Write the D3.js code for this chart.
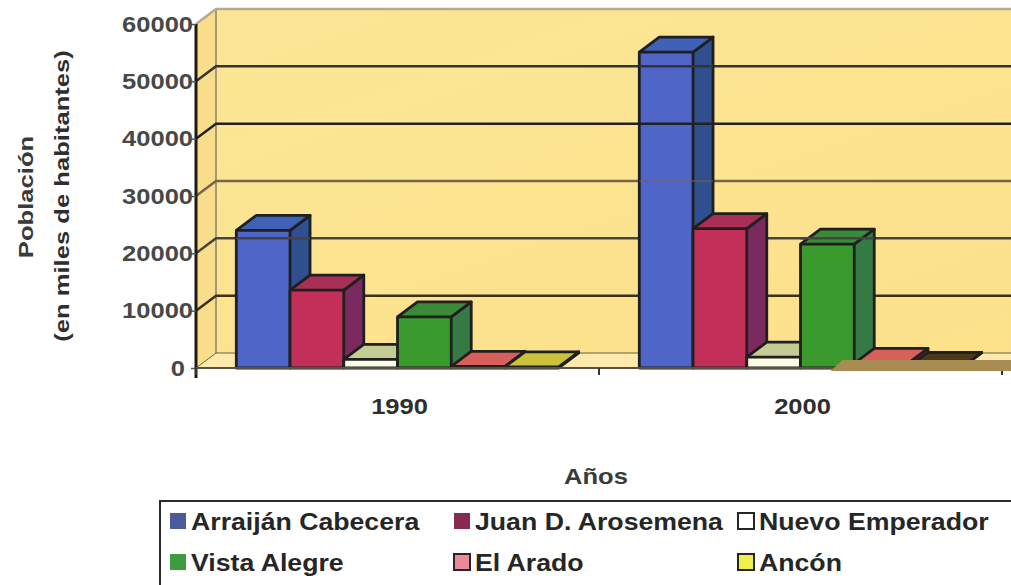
<!DOCTYPE html>
<html>
<head>
<meta charset="utf-8">
<script src="https://cdn.jsdelivr.net/npm/d3@7"></script>
<style>
body { margin: 0; background: #fff; overflow: hidden; }
svg { display: block; }
text { font-family: "Liberation Sans", Arial, sans-serif; font-weight: bold; }
</style>
</head>
<body>
<div id="chart"></div>
<script>
const years = ["1990", "2000"];
const seriesNames = ["Arraiján Cabecera", "Juan D. Arosemena", "Nuevo Emperador", "Vista Alegre", "El Arado", "Ancón"];
const values1990 = [24000, 13600, 1500, 8900, 300, 200];
const values2000 = [55100, 24300, 1900, 21600, 800, 100];
const yTicks = [0, 10000, 20000, 30000, 40000, 50000, 60000];

const frontColors = ["#4f66c8", "#c2305a", "#fdfde6", "#3a9a2e", "#d8605a", "#ccc23a"];
const topColors = ["#3f62b8", "#a83058", "#c4cc96", "#3a8a3a", "#d8605a", "#ccc23a"];
const sideColors = ["#2f4f8f", "#7a2a5e", "#c4cc96", "#357a45", "#a84a50", "#8a8a30"];
const legendColors = ["#4a5a9c", "#8a2a50", "#ffffff", "#3f9a40", "#e88a98", "#f0f04a"];
const gridColors = ["#6b5f48", "#3a3020", "#444444", "#77654a", "#222222", "#333333", "#b5ab90"];

const width = 1011, height = 585;
const depthX = 20, depthY = -15;
const stretch = 1.16;

const valuesByYear = { "1990": values1990, "2000": values2000 };

let svg = d3.select("#chart").append("svg")
    .attr("width", width)
    .attr("height", height);

let defs = svg.append("defs");
let wallGrad = defs.append("linearGradient").attr("id", "wall")
    .attr("x1", 0).attr("y1", 0).attr("x2", 1).attr("y2", 1);
wallGrad.append("stop").attr("offset", "0%").attr("stop-color", "#fbe695");
wallGrad.append("stop").attr("offset", "100%").attr("stop-color", "#fde08a");

let x0 = d3.scaleBand().domain(years).range([196, 1002]);
let x1 = d3.scaleBand().domain(seriesNames).range([0, x0.bandwidth()]).paddingOuter(0.75);
let y = d3.scaleLinear().domain([0, 60000]).range([368, 24]);
let gridColor = d3.scaleOrdinal().domain(yTicks).range(gridColors);

let right = width + 30;

// back wall, side wall, floor
svg.append("rect")
    .attr("x", x0.range()[0] + depthX).attr("y", y(60000) + depthY)
    .attr("width", right).attr("height", y(0) - y(60000))
    .attr("fill", "url(#wall)");
svg.append("path")
    .attr("d", d3.line()([
        [x0.range()[0], y(0)],
        [x0.range()[0], y(60000)],
        [x0.range()[0] + depthX, y(60000) + depthY],
        [x0.range()[0] + depthX, y(0) + depthY]
    ]))
    .attr("fill", "#f8dd8a");
svg.append("path")
    .attr("d", d3.line()([
        [x0.range()[0], y(0)],
        [x0.range()[0] + depthX, y(0) + depthY],
        [right, y(0) + depthY],
        [right, y(0)]
    ]))
    .attr("fill", "#fce9ab");

// back wall edge
svg.append("line")
    .attr("x1", x0.range()[0] + depthX).attr("x2", x0.range()[0] + depthX)
    .attr("y1", y(60000) + depthY).attr("y2", y(0) + depthY)
    .attr("stroke", "#8a8170").attr("stroke-width", 1.5);

// grid, bent around the wall
svg.append("g").selectAll("path")
    .data(yTicks)
    .enter()
    .append("path")
    .attr("d", (d) => d3.line()([
        [x0.range()[0], y(d)],
        [x0.range()[0] + depthX, y(d) + depthY],
        [right, y(d) + depthY]
    ]))
    .attr("fill", "none")
    .attr("stroke", (d) => gridColor(d))
    .attr("stroke-width", (d) => d === 0 ? 1 : 2.5);

function drawBar(g, year, i) {
    let value = valuesByYear[year][i];
    let left = x0(year) + x1(seriesNames[i]);
    let w = x1.bandwidth();
    let top = y(value);
    let bottom = y(0);
    let line = d3.line();
    let bar = g.append("g")
        .attr("stroke", "#1f1f1f")
        .attr("stroke-width", 2.8)
        .attr("stroke-linejoin", "round");
    bar.append("path")
        .attr("d", line([[left + w, top], [left + w + depthX, top + depthY], [left + w + depthX, bottom + depthY], [left + w, bottom]]))
        .attr("fill", sideColors[i]);
    bar.append("path")
        .attr("d", line([[left, top], [left + depthX, top + depthY], [left + w + depthX, top + depthY], [left + w, top]]))
        // the flat Ancón bar of 2000 came out almost black in the scan
        .attr("fill", year === "2000" && i === 5 ? "#4a3a18" : topColors[i]);
    bar.append("rect")
        .attr("x", left).attr("y", top)
        .attr("width", w).attr("height", bottom - top)
        .attr("fill", frontColors[i]);
}

let bars = svg.append("g");
years.forEach((year) => {
    seriesNames.forEach((name, i) => drawBar(bars, year, i));
});

// some grid lines show through the bars in the scan
const gridOverBars = [
    ["1990", "Arraiján Cabecera", 20000, 2.5],
    ["2000", "Arraiján Cabecera", 50000, 2.5],
    ["2000", "Arraiján Cabecera", 40000, 2.5],
    ["2000", "Arraiján Cabecera", 30000, 1],
    ["2000", "Vista Alegre", 20000, 2.5]
];
svg.append("g").selectAll("line")
    .data(gridOverBars)
    .enter()
    .append("line")
    .attr("x1", (d) => x0(d[0]) + x1(d[1]))
    .attr("x2", (d) => x0(d[0]) + x1(d[1]) + x1.bandwidth() + depthX)
    .attr("y1", (d) => y(d[2]) + depthY)
    .attr("y2", (d) => y(d[2]) + depthY)
    .attr("stroke", (d) => gridColor(d[2]))
    .attr("stroke-width", (d) => d[3]);

// axes
let yAxis = svg.append("g")
    .attr("transform", `translate(${x0.range()[0]},0)`)
    .call(d3.axisLeft(y).tickValues(yTicks).tickSize(5).tickFormat(d3.format("d")));
yAxis.select(".domain")
    .attr("d", `M0,${y(60000)}V${y(0) + 10}`)
    .attr("stroke", "#1d1a14").attr("stroke-width", 3);
yAxis.selectAll(".tick line").attr("stroke", "#555").attr("stroke-width", 1.5);
yAxis.selectAll(".tick text")
    .attr("x", (d) => (d === 0 ? -11 : -3) / stretch)
    .attr("fill", "#484848")
    .attr("font-size", 22)
    .attr("transform", `scale(${stretch},1)`);

let xAxis = svg.append("g")
    .attr("transform", `translate(0,${y(0)})`)
    .call(d3.axisBottom(x0).tickSize(8).tickFormat(""));
xAxis.select(".domain")
    .attr("d", `M${x0.range()[0]},0H${right}`)
    .attr("stroke", "#5a5040").attr("stroke-width", 2);
xAxis.selectAll(".tick").remove();
xAxis.selectAll(".boundary")
    .data(d3.range(years.length + 1))
    .enter()
    .append("line")
    .attr("x1", (d) => x0.range()[0] + d * x0.step())
    .attr("x2", (d) => x0.range()[0] + d * x0.step())
    .attr("y1", 0).attr("y2", 7)
    .attr("stroke", "#333").attr("stroke-width", 2);

// brown smear over the floor at the right
let smearLeft = x0("2000") + x1("Vista Alegre") + 30;
svg.append("path")
    .attr("d", d3.line()([
        [smearLeft, y(0) + 3],
        [smearLeft + 12, y(0) - 8],
        [right, y(0) - 8],
        [right, y(0) + 3]
    ]))
    .attr("fill", "#a98c52");

function label(txt, px, py, size, fill) {
    return svg.append("text")
        .attr("transform", `translate(${px},${py}) scale(${stretch},1)`)
        .attr("text-anchor", "middle")
        .attr("font-size", size)
        .attr("fill", fill)
        .text(txt);
}

years.forEach((year) => {
    label(year, x0(year) + x0.bandwidth() / 2 + 2, 414, 22, "#2e2e2e");
});
label("Años", 596, 484, 22, "#3a3a3a");

svg.append("text")
    .attr("transform", `translate(33,197) rotate(-90) scale(1.22,1)`)
    .attr("text-anchor", "middle")
    .attr("font-size", 21)
    .attr("fill", "#3a3a3a")
    .text("Población");
svg.append("text")
    .attr("transform", `translate(69,196) rotate(-90) scale(1.22,1)`)
    .attr("text-anchor", "middle")
    .attr("font-size", 21)
    .attr("fill", "#2e2e2e")
    .text("(en miles de habitantes)");

// legend, box runs off the page on the right and bottom
svg.append("rect")
    .attr("x", 160).attr("y", 501)
    .attr("width", width).attr("height", 200)
    .attr("fill", "#fff")
    .attr("stroke", "#2a2a2a").attr("stroke-width", 2);

let legendX = d3.scalePoint().domain([0, 1, 2]).range([170, 738]);
let legendY = d3.scalePoint().domain([0, 1]).range([513, 554]);
let legendItems = svg.append("g").selectAll("g")
    .data(seriesNames)
    .enter()
    .append("g")
    .attr("transform", (d, i) => `translate(${legendX(i % 3)},${legendY(Math.floor(i / 3))})`);
legendItems.append("rect")
    .attr("width", 16).attr("height", 16)
    .attr("fill", (d, i) => legendColors[i])
    .attr("stroke", (d, i) => i < 2 || i === 3 ? "none" : "#262626")
    .attr("stroke-width", 2);
legendItems.append("text")
    .attr("transform", `translate(21,17) scale(${stretch},1)`)
    .attr("font-size", 23)
    .attr("fill", "#262626")
    .text((d) => d);
</script>
</body>
</html>
